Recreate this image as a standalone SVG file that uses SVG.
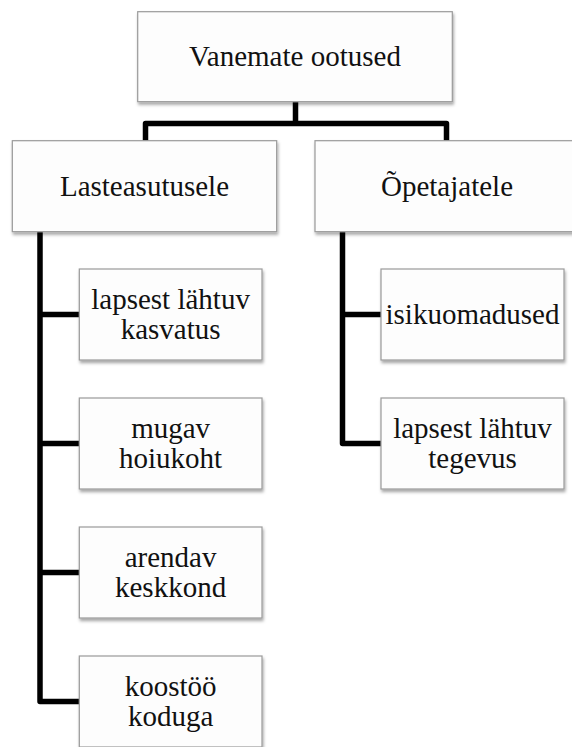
<svg xmlns="http://www.w3.org/2000/svg" width="572" height="747" viewBox="0 0 572 747">
<defs>
<filter id="sh" x="-10%" y="-10%" width="125%" height="130%">
<feDropShadow dx="1" dy="2.5" stdDeviation="1.6" flood-color="#000" flood-opacity="0.35"/>
</filter>
</defs>
<style>
.box{fill:#fdfdfd;stroke:#9a9a9a;stroke-width:1.2;filter:url(#sh)}
.t{font-size:29px;fill:#111;text-anchor:middle}
.c{fill:none;stroke:#000;stroke-width:5.5;stroke-linejoin:round}
</style>
<rect width="572" height="747" fill="#fff"/>
<g id="connectors">
<path class="c" d="M295.5,101.7 V123.5 M145.5,140.7 V123.5 H446.5 V140.7"/>
<path class="c" d="M40,231.7 V701.5 H79 M40,314.5 H79 M40,443.5 H79 M40,572.5 H79"/>
<path class="c" d="M342.5,231.7 V443.5 H381 M342.5,314.5 H381"/>
</g>
<g font-family="Liberation Serif, DejaVu Serif, serif">
<g id="root">
<rect class="box" x="137.7" y="11.7" width="314.6" height="90"/>
<text class="t" x="295" y="66">Vanemate ootused</text>
</g>
<g id="lasteasutusele">
<rect class="box" x="12.3" y="140.7" width="264.4" height="91"/>
<text class="t" x="144.5" y="196">Lasteasutusele</text>
</g>
<g id="opetajatele">
<rect class="box" x="315" y="140.7" width="264.4" height="91"/>
<text class="t" x="447" y="196">Õpetajatele</text>
</g>
<g id="l1">
<rect class="box" x="79.3" y="269" width="182.7" height="91"/>
<text class="t" x="170.6" y="309">lapsest lähtuv</text>
<text class="t" x="170.6" y="339">kasvatus</text>
</g>
<g id="l2">
<rect class="box" x="79.3" y="398" width="182.7" height="91"/>
<text class="t" x="170.6" y="438">mugav</text>
<text class="t" x="170.6" y="468">hoiukoht</text>
</g>
<g id="l3">
<rect class="box" x="79.3" y="527" width="182.7" height="91"/>
<text class="t" x="170.6" y="567">arendav</text>
<text class="t" x="170.6" y="597">keskkond</text>
</g>
<g id="l4">
<rect class="box" x="79.3" y="656" width="182.7" height="91"/>
<text class="t" x="170.6" y="696">koostöö</text>
<text class="t" x="170.6" y="726">koduga</text>
</g>
<g id="r1">
<rect class="box" x="381" y="269" width="183" height="91"/>
<text class="t" x="472.5" y="324">isikuomadused</text>
</g>
<g id="r2">
<rect class="box" x="381" y="398" width="183" height="91"/>
<text class="t" x="472.5" y="438">lapsest lähtuv</text>
<text class="t" x="472.5" y="468">tegevus</text>
</g>
</g>
</svg>
